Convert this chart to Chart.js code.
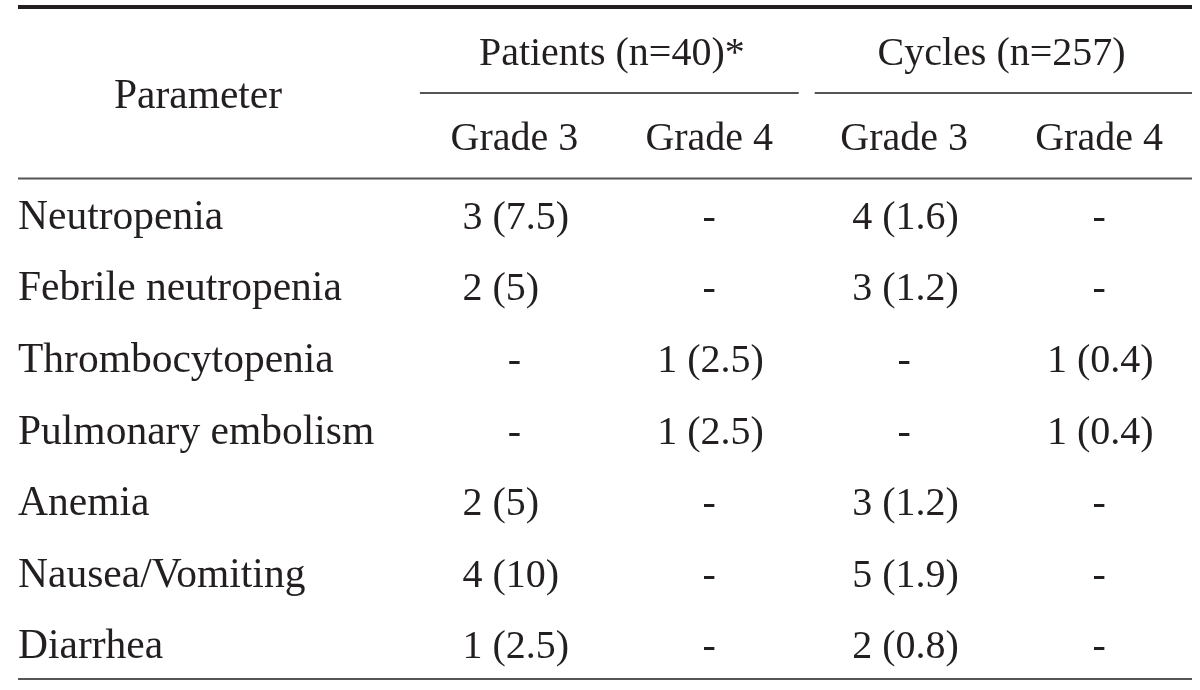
<!DOCTYPE html>
<html>
<head>
<meta charset="utf-8">
<script src="https://cdn.jsdelivr.net/npm/chart.js@4.4.1/dist/chart.umd.min.js"></script>
<style>
  html, body { margin: 0; padding: 0; background: #ffffff; }
  #wrap { width: 1200px; height: 690px; position: relative; }
</style>
</head>
<body>
<div id="wrap"><canvas id="c" width="1200" height="690"></canvas></div>
<script>
// ---- Data ----
const parameters = ['Neutropenia', 'Febrile neutropenia', 'Thrombocytopenia', 'Pulmonary embolism', 'Anemia', 'Nausea/Vomiting', 'Diarrhea'];
const groupHeaders = ['Patients (n=40)*', 'Cycles (n=257)'];
const gradeHeaders = ['Grade 3', 'Grade 4', 'Grade 3', 'Grade 4'];
const firstHeader = 'Parameter';

const patientsG3Count = [3, 2, null, null, 2, 4, 1];
const patientsG3Pct   = [7.5, 5, null, null, 5, 10, 2.5];
const patientsG4Count = [null, null, 1, 1, null, null, null];
const patientsG4Pct   = [null, null, 2.5, 2.5, null, null, null];
const cyclesG3Count   = [4, 3, null, null, 3, 5, 2];
const cyclesG3Pct     = [1.6, 1.2, null, null, 1.2, 1.9, 0.8];
const cyclesG4Count   = [null, null, 1, 1, null, null, null];
const cyclesG4Pct     = [null, null, 0.4, 0.4, null, null, null];

const columns = [
  { count: patientsG3Count, pct: patientsG3Pct },
  { count: patientsG4Count, pct: patientsG4Pct },
  { count: cyclesG3Count, pct: cyclesG3Pct },
  { count: cyclesG4Count, pct: cyclesG4Pct }
];

function cellText(n, p) {
  if (n === null || n === undefined) return '-';
  return n + ' (' + p + ')';
}

const datasets = columns.map((col, ci) => ({
  label: gradeHeaders[ci],
  data: parameters.map((name, ri) => ({ x: ci + 1, y: name, text: cellText(col.count[ri], col.pct[ri]) })),
  pointRadius: 0,
  pointHoverRadius: 0,
  showLine: false
}));

const FONT = '40px "Liberation Serif", "Times New Roman", serif';
const FONT_LABEL = '41.5px "Liberation Serif", "Times New Roman", serif';
const INK = '#231f20';

const tablePlugin = {
  id: 'tableDraw',
  afterDatasetsDraw(chart) {
    const ctx = chart.ctx;
    const area = chart.chartArea;
    const xs = chart.scales.x;
    const ys = chart.scales.y;
    ctx.save();

    // rules
    ctx.strokeStyle = INK;
    ctx.lineWidth = 4;
    ctx.beginPath(); ctx.moveTo(area.left, 7); ctx.lineTo(area.right, 7); ctx.stroke();

    ctx.strokeStyle = '#555555';
    ctx.lineWidth = 2;
    ctx.beginPath(); ctx.moveTo(area.left, area.top + 0.5); ctx.lineTo(area.right, area.top + 0.5); ctx.stroke();
    ctx.beginPath(); ctx.moveTo(area.left, area.bottom); ctx.lineTo(area.right, area.bottom); ctx.stroke();
    const y2 = 93;
    ctx.beginPath(); ctx.moveTo(xs.getPixelForValue(0.5) + 3, y2); ctx.lineTo(xs.getPixelForValue(2.5) - 8, y2); ctx.stroke();
    ctx.beginPath(); ctx.moveTo(xs.getPixelForValue(2.5) + 8, y2); ctx.lineTo(area.right, y2); ctx.stroke();

    // header text
    ctx.fillStyle = INK;
    ctx.textBaseline = 'alphabetic';
    ctx.textAlign = 'center';
    ctx.font = FONT_LABEL;
    ctx.fillText(firstHeader, area.left + 180, 108);
    ctx.font = FONT;
    ctx.fillText(groupHeaders[0], (xs.getPixelForValue(1) + xs.getPixelForValue(2)) / 2, 65);
    ctx.fillText(groupHeaders[1], (xs.getPixelForValue(3) + xs.getPixelForValue(4)) / 2, 65);
    gradeHeaders.forEach((g, i) => ctx.fillText(g, xs.getPixelForValue(i + 1), 150));

    // parameter names
    ctx.font = FONT_LABEL;
    ctx.textAlign = 'left';
    parameters.forEach((p, i) => {
      ctx.fillText(p, area.left, ys.getPixelForValue(i) + 15);
    });

    // cells
    ctx.font = FONT;
    chart.data.datasets.forEach((ds, di) => {
      const meta = chart.getDatasetMeta(di);
      meta.data.forEach((pt, ri) => {
        const t = ds.data[ri].text;
        if (t === '-') {
          ctx.textAlign = 'center';
          ctx.fillText(t, pt.x, pt.y + 15);
        } else {
          ctx.textAlign = 'left';
          ctx.fillText(t, pt.x - 52, pt.y + 15);
        }
      });
    });
    ctx.restore();
  }
};

new Chart(document.getElementById('c'), {
  type: 'scatter',
  data: { datasets },
  options: {
    responsive: false,
    animation: false,
    events: [],
    layout: { padding: { top: 178, bottom: 11, left: 18, right: 8 } },
    plugins: { legend: { display: false }, tooltip: { enabled: false } },
    scales: {
      x: { type: 'linear', display: false, min: -1.547, max: 4.477 },
      y: { type: 'category', labels: parameters, display: false, offset: true }
    }
  },
  plugins: [tablePlugin]
});
</script>
</body>
</html>
